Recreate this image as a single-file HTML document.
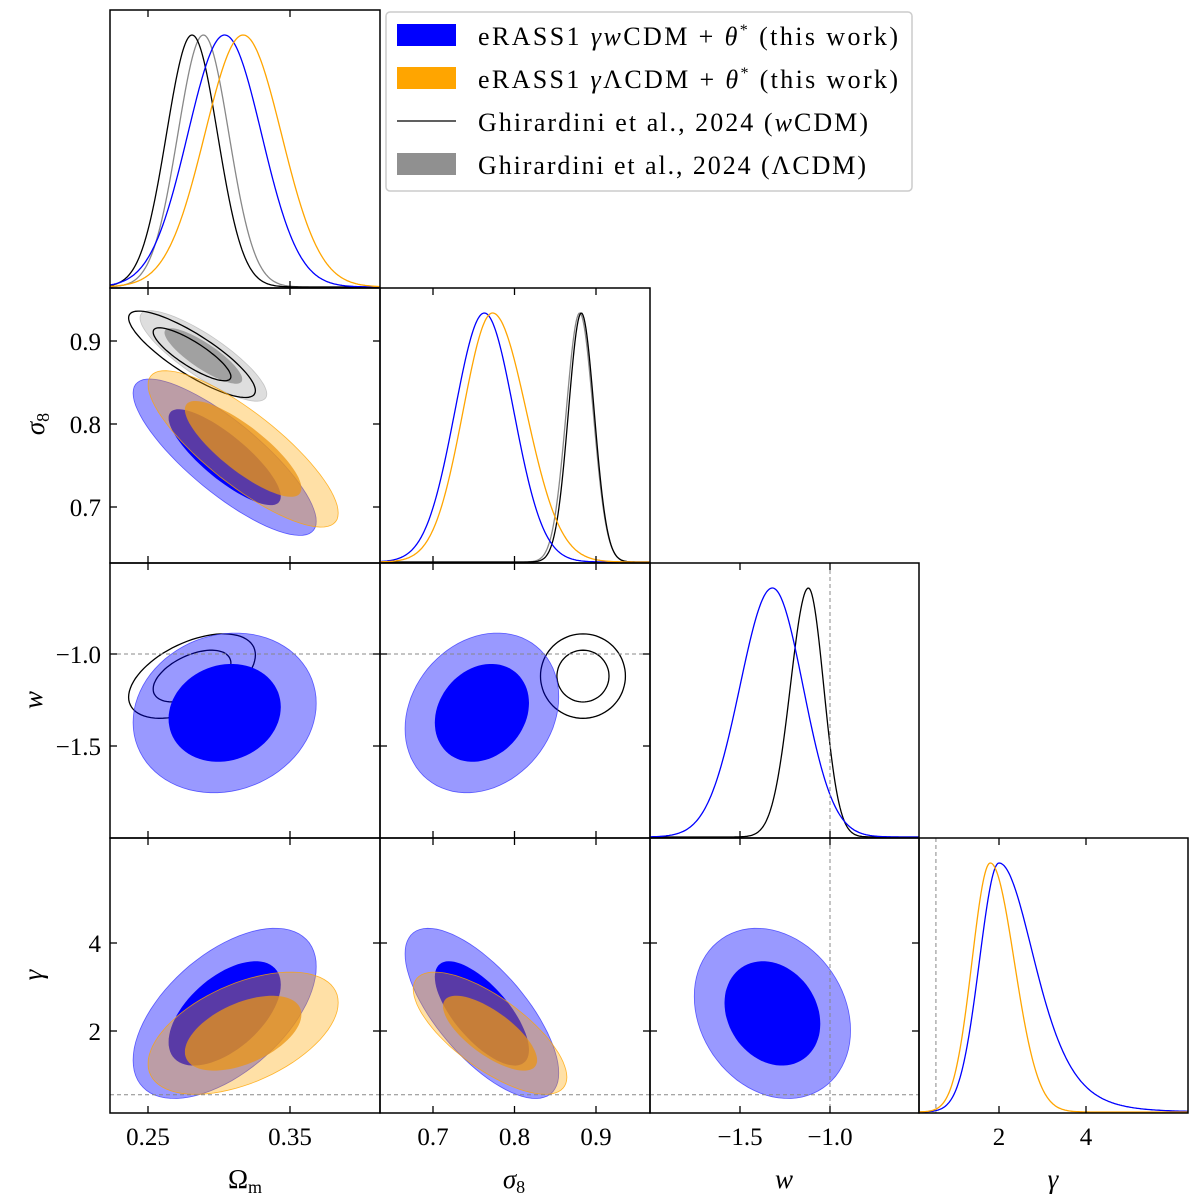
<!DOCTYPE html>
<html><head><meta charset="utf-8"><style>
body{margin:0;background:#fff}
svg{display:block;font-family:"Liberation Serif",serif}
</style></head><body>
<svg id="c" width="1200" height="1200" viewBox="0 0 1200 1200" xmlns="http://www.w3.org/2000/svg"></svg>
<script>
// ---- data ----
const paramNames = ['Ωm','σ8','w','γ'];
const seriesNames = ['gamma-wcdm','gamma-lcdm','ghirardini-wcdm','ghirardini-lcdm'];
const meanOm = [0.304, 0.317, 0.281, 0.289];
const sigOm = [0.026, 0.027, 0.018, 0.018];
const meanS8 = [0.76, 0.77, 0.884, 0.882];
const sigS8 = [0.038, 0.038, 0.021, 0.022];
const meanW = [-1.32, null, -1.12, null];
const sigWL = [0.18, null, 0.10, null];
const sigWR = [0.17, null, 0.085, null];
const peakG = [2.0, 1.8, null, null];
const sigGL = [0.45, 0.42, null, null];
const sigGR = [0.85, 0.55, null, null];
const centerG2d = [2.4, 1.95, null, null];
const sigG2d = [0.78, 0.56, null, null];
const corrOmS8 = [-0.82, -0.82, -0.84, -0.84];
const corrOmW = [0.12, null, 0.5, null];
const corrS8W = [0.2, null, 0.0, null];
const corrOmG = [0.55, 0.5, null, null];
const corrS8G = [-0.7, -0.72, null, null];
const corrWG = [-0.2, null, null, null];
const xTicks = [[0.25,0.35],[0.7,0.8,0.9],[-1.5,-1.0],[2,4]];
const xTickLabels = [['0.25','0.35'],['0.7','0.8','0.9'],['−1.5','−1.0'],['2','4']];
const yTicksS8 = [0.7,0.8,0.9], yTicksW = [-1.5,-1.0], yTicksG = [2,4];
const refW = -1.0, refG = 0.55;

// ---- layout ----
const colL=[110,380,650,919], colR=[380,650,919,1188];
const rowT=[10,288,563,838], rowB=[288,563,838,1113];
const xs=[v=>148+(v-0.25)*1420, v=>433+(v-0.7)*815, v=>830+(v+1)*180, v=>999+(v-2)*43.5];
const ys=[null, v=>424-(v-0.8)*830, v=>654-(v+1)*184, v=>1031-(v-2)*44];
const NS='http://www.w3.org/2000/svg';
const svg=document.getElementById('c');
function el(tag,attrs,parent){const e=document.createElementNS(NS,tag);for(const k in attrs)e.setAttribute(k,attrs[k]);(parent||svg).appendChild(e);return e;}

const fills=[
 {o:'rgba(0,0,255,0.4)',i:'rgba(0,0,255,1)',line:'rgba(60,60,255,0.8)'},
 {o:'rgba(255,165,0,0.35)',i:'rgba(235,150,20,0.75)',line:'rgba(255,165,0,0.8)'},
 null,
 {o:'rgba(160,160,160,0.35)',i:'rgba(120,120,120,0.6)',line:'rgba(170,170,170,0.6)'}];
const lineCol=['#0000ff','#ffa500','#000','#888'];

function getParam(p,s){
  if(p===0)return{m:meanOm[s],sd:sigOm[s]};
  if(p===1)return{m:meanS8[s],sd:sigS8[s]};
  if(p===2)return meanW[s]==null?null:{m:meanW[s],sd:(sigWL[s]+sigWR[s])/2};
  return peakG[s]==null?null:{m:centerG2d[s],sd:sigG2d[s]};
}
function getCorr(a,b,s){
  const k=a+''+b;
  return {'01':corrOmS8,'02':corrOmW,'12':corrS8W,'03':corrOmG,'13':corrS8G,'23':corrWG}[k][s];
}
function ellipsePath(px,py,A,B,rho,r){
  let d='';
  for(let i=0;i<=80;i++){const t=i/80*2*Math.PI;const u=Math.cos(t)*r,v=Math.sin(t)*r;
    const x=A.m+A.sd*u, y=B.m+B.sd*(rho*u+Math.sqrt(1-rho*rho)*v);
    d+=(i?'L':'M')+px(x).toFixed(1)+','+py(y).toFixed(1);}
  return d+'Z';
}
function splitN(x,m,sl,sr){const s=x<m?sl:sr;return Math.exp(-0.5*((x-m)/s)**2);}

// ---- panels ----
for(let r=0;r<4;r++)for(let c=0;c<=r;c++){
  const g=el('g',{});
  
  
  const cid='clip'+c+r;
  const cp=el('clipPath',{id:cid},g);el('rect',{x:colL[c],y:rowT[r],width:colR[c]-colL[c],height:rowB[r]-rowT[r]},cp);
  const inner=el('g',{'clip-path':'url(#'+cid+')'},g);
  const L=colL[c],R=colR[c],T=rowT[r],B=rowB[r];
  if(c===r){
    const px=xs[c];
    const order=[3,2,0,1];
    for(const s of order){
      let m,sl,sr;
      if(c===0){m=meanOm[s];sl=sr=sigOm[s];}
      else if(c===1){m=meanS8[s]+(s<2?0.003:-0.002);sl=sr=sigS8[s]*(s<2?0.95:0.75);if(s===1)sr*=1.15;}
      else if(c===2){if(meanW[s]==null)continue;m=meanW[s];sl=sigWL[s];sr=sigWR[s];}
      else{if(peakG[s]==null)continue;m=peakG[s];sl=sigGL[s];sr=sigGR[s];}
      let d='';
      for(let X=L;X<=R;X+=1){
        const a=px(0),b=px(1);const v0=(X-a)/(b-a);
        let h=splitN(v0,m,sl,sr);
        if(c===3&&s===0&&v0>m){const z=(v0-m)/sr;h=Math.pow(1+z*z/6,-3.5);}
        const y=B-h*(B-T-26)-1;
        d+=(X===L?'M':'L')+X+','+y.toFixed(1);
      }
      const p=el('path',{d:d,fill:'none',stroke:lineCol[s],'stroke-width':1.3},inner);
      
      
    }
    if(c===2){const x=xs[2](refW);el('line',{x1:x,x2:x,y1:T,y2:B,stroke:'#888','stroke-dasharray':'4,3','stroke-width':1},inner);}
    if(c===3){const x=xs[3](refG);el('line',{x1:x,x2:x,y1:T,y2:B,stroke:'#888','stroke-dasharray':'4,3','stroke-width':1},inner);}
  } else {
    const px=xs[c],py=ys[r];
    for(const s of [3,2,0,1]){
      const A=getParam(c,s),Bp=getParam(r,s);if(!A||!Bp)continue;
      const rho=getCorr(c,r,s);
      const d95=ellipsePath(px,py,A,Bp,rho,2.48),d68=ellipsePath(px,py,A,Bp,rho,1.52);
      if(s===2){
        for(const d of [d95,d68]){const p=el('path',{d:d,fill:'none',stroke:'#000','stroke-width':1.3},inner);
          }
      } else {
        const f=fills[s];
        const p1=el('path',{d:d95,fill:f.o,stroke:f.line,'stroke-width':0.8},inner);
        
        const p2=el('path',{d:d68,fill:f.i},inner);
        
      }
    }
    if(c===2){const x=px(refW);el('line',{x1:x,x2:x,y1:T,y2:B,stroke:'#888','stroke-dasharray':'4,3','stroke-width':1},inner);}
    if(r===2){const y=py(refW);el('line',{x1:L,x2:R,y1:y,y2:y,stroke:'#888','stroke-dasharray':'4,3','stroke-width':1},inner);}
    if(r===3){const y=py(refG);el('line',{x1:L,x2:R,y1:y,y2:y,stroke:'#888','stroke-dasharray':'4,3','stroke-width':1},inner);}
    const yt=[null,yTicksS8,yTicksW,yTicksG][r];
    for(const v of yt){const y=py(v);
      el('line',{x1:L,x2:L+7,y1:y,y2:y,stroke:'#000','stroke-width':1.3},g);
      el('line',{x1:R-7,x2:R,y1:y,y2:y,stroke:'#000','stroke-width':1.3},g);}
  }
  for(const v of xTicks[c]){const x=xs[c](v);
    el('line',{x1:x,x2:x,y1:B-7,y2:B,stroke:'#000','stroke-width':1.3},g);
    el('line',{x1:x,x2:x,y1:T,y2:T+7,stroke:'#000','stroke-width':1.3},g);}
  el('rect',{x:L,y:T,width:R-L,height:B-T,fill:'none',stroke:'#000','stroke-width':1.5},g);
}
for(let c=0;c<4;c++){xTicks[c].forEach((v,i)=>{
  const t=el('text',{x:xs[c](v),y:1145,'font-size':25,'text-anchor':'middle'});t.textContent=xTickLabels[c][i];
  });}
[[1,yTicksS8,['0.7','0.8','0.9']],[2,yTicksW,['−1.5','−1.0']],[3,yTicksG,['2','4']]].forEach(([r,tk,lb])=>{
  tk.forEach((v,i)=>{const t=el('text',{x:101,y:ys[r](v)+9,'font-size':25,'text-anchor':'end'});t.textContent=lb[i];
  });});
</script>
<svg width="1200" height="1200" style="position:absolute;left:0;top:0" xmlns="http://www.w3.org/2000/svg" font-family="Liberation Serif, serif">
<g font-size="27" text-anchor="middle">
<text x="245" y="1188">Ω<tspan font-size="18" dy="5">m</tspan></text>
<text x="514" y="1188" font-style="italic">σ<tspan font-size="18" dy="5" font-style="normal">8</tspan></text>
<text x="784" y="1188" font-style="italic">w</text>
<text x="1053" y="1188" font-style="italic">γ</text>
</g>
<g font-size="27" text-anchor="middle" font-style="italic">
<text transform="translate(44,424) rotate(-90)">σ<tspan font-size="18" dy="5" font-style="normal">8</tspan></text>
<text transform="translate(42,700) rotate(-90)">w</text>
<text transform="translate(42,975) rotate(-90)">γ</text>
</g>
<g font-size="26">
<rect x="386" y="12" width="526" height="179" rx="4" fill="#fff" stroke="#ccc" stroke-width="1.5"/>
<rect x="397" y="24" width="59" height="22" fill="#0000ff"/>
<text x="478" y="45" textLength="420">eRASS1 <tspan font-style="italic">γw</tspan>CDM + <tspan font-style="italic">θ</tspan><tspan font-size="16" dy="-10">*</tspan><tspan dy="10"> (this work)</tspan></text>
<rect x="397" y="67" width="59" height="22" fill="#ffa500"/>
<text x="478" y="88" textLength="420">eRASS1 <tspan font-style="italic">γ</tspan>ΛCDM + <tspan font-style="italic">θ</tspan><tspan font-size="16" dy="-10">*</tspan><tspan dy="10"> (this work)</tspan></text>
<line x1="397" x2="456" y1="121" y2="121" stroke="#000" stroke-width="1.3"/>
<text x="478" y="131" textLength="390">Ghirardini et al., 2024 (<tspan font-style="italic">w</tspan>CDM)</text>
<rect x="397" y="153" width="59" height="22" fill="#909090"/>
<text x="478" y="174" textLength="388">Ghirardini et al., 2024 (ΛCDM)</text>
</g>
</svg>
</body></html>
